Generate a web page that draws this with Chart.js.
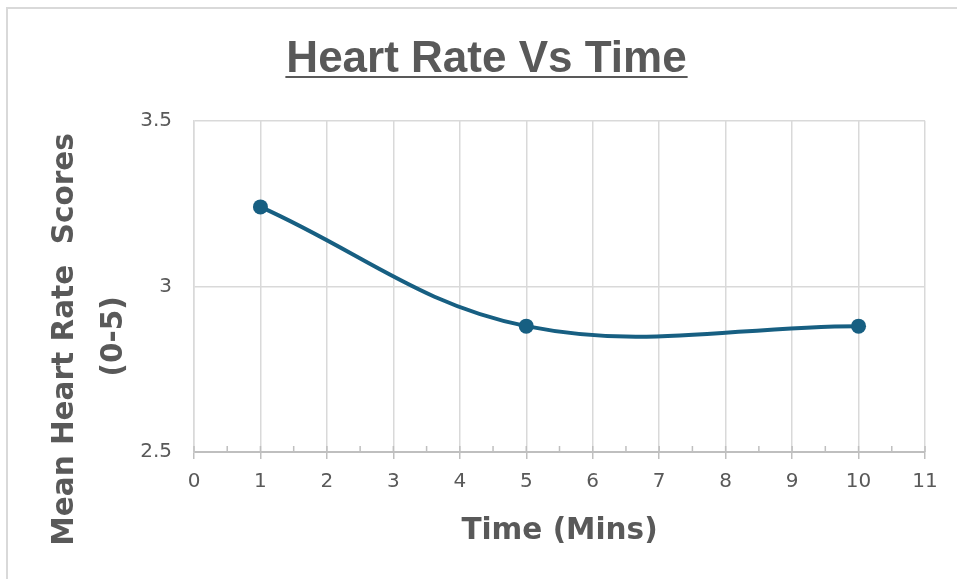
<!DOCTYPE html>
<html>
<head>
<meta charset="utf-8">
<script src="https://cdn.jsdelivr.net/npm/chart.js@4/dist/chart.umd.min.js"></script>
<style>
  html, body { margin: 0; padding: 0; background: #ffffff; }
  #wrap { position: relative; width: 957px; height: 579px; overflow: hidden; }
  #frame { position: absolute; left: 6px; top: 7px; width: 960px; height: 580px;
           border-top: 2px solid #d9d9d9; border-left: 2px solid #d9d9d9; pointer-events: none; }
  canvas { position: absolute; left: 0; top: 0; }
</style>
</head>
<body>
<div id="wrap">
  <canvas id="chart" width="957" height="579"></canvas>
  <div id="frame"></div>
</div>
<script>
// Mean heart rate score measured at each time point
const timeMins = [1, 5, 10];
const heartRateScores = [3.24, 2.88, 2.88];

// Axis ranges and labels
const xRange = [0, 11];
const yRange = [2.5, 3.5];
const yStep = 0.5;
const chartTitle = 'Heart Rate Vs Time';
const xTitle = 'Time (Mins)';
const yTitleLines = ['Mean Heart Rate  Scores', '(0-5)'];

const TEXT = '#595959';
const GRID = '#d9d9d9';
const AXIS = '#bfbfbf';
const LINE = '#175f82';

const points = timeMins.map((t, i) => ({ x: t, y: heartRateScores[i] }));

// Underline beneath the chart title
const titleUnderline = {
  id: 'titleUnderline',
  afterDraw(chart) {
    const tb = chart.titleBlock;
    if (!tb) return;
    const ctx = chart.ctx;
    const font = Chart.helpers.toFont(chart.options.plugins.title.font);
    ctx.save();
    ctx.font = font.string;
    const w = ctx.measureText(chartTitle).width;
    const cx = (tb.left + tb.right) / 2;
    const y = tb.top + tb.options.padding.top + font.lineHeight / 2 + font.size * 0.40;
    ctx.strokeStyle = TEXT;
    ctx.lineWidth = 2;
    ctx.beginPath();
    ctx.moveTo(cx - w / 2 - 1, y);
    ctx.lineTo(cx + w / 2 + 1, y);
    ctx.stroke();
    ctx.restore();
  }
};

// Small tick marks above the x axis (major and half-step minor)
const axisTicks = {
  id: 'axisTicks',
  beforeDatasetsDraw(chart) {
    const xs = chart.scales.x;
    const ctx = chart.ctx;
    const yAxis = chart.chartArea.bottom;
    ctx.save();
    ctx.strokeStyle = AXIS;
    ctx.lineWidth = 1.5;
    for (let v = xRange[0]; v <= xRange[1]; v += 0.5) {
      const px = xs.getPixelForValue(v);
      ctx.beginPath();
      ctx.moveTo(px, yAxis - 6);
      ctx.lineTo(px, yAxis);
      ctx.stroke();
    }
    ctx.restore();
  }
};

// Two-line rotated title for the value axis
const yAxisTitle = {
  id: 'yAxisTitle',
  afterDraw(chart) {
    const ctx = chart.ctx;
    const ca = chart.chartArea;
    ctx.save();
    ctx.fillStyle = TEXT;
    ctx.font = 'bold 29.5px "DejaVu Sans", sans-serif';
    ctx.textAlign = 'center';
    ctx.textBaseline = 'alphabetic';
    ctx.translate(73, ca.top + (ca.bottom - ca.top) / 2 + 53);
    ctx.rotate(-Math.PI / 2);
    ctx.fillText(yTitleLines[0], 0, 0);
    ctx.fillText(yTitleLines[1], 3, 49);
    ctx.restore();
  }
};

new Chart(document.getElementById('chart'), {
  type: 'line',
  data: {
    datasets: [{
      data: points,
      yAxisID: 'y',
      borderColor: LINE,
      backgroundColor: LINE,
      borderWidth: 4,
      pointRadius: 7.5,
      pointHoverRadius: 7.5,
      pointBorderWidth: 0,
      tension: 0.38,
      fill: false
    }]
  },
  options: {
    responsive: false,
    animation: false,
    layout: { padding: { left: 16, right: 0, top: 0, bottom: 0 } },
    plugins: {
      legend: { display: false },
      tooltip: { enabled: false },
      title: {
        display: true,
        text: chartTitle,
        color: TEXT,
        font: { family: '"Liberation Sans", Arial, sans-serif', size: 44, weight: 'bold', lineHeight: 1.2 },
        padding: { top: 33, bottom: 35 }
      }
    },
    scales: {
      x: {
        type: 'linear',
        min: xRange[0],
        max: xRange[1],
        afterFit(s) { s.height = 127; },
        ticks: {
          stepSize: 1,
          color: TEXT,
          padding: 11,
          font: { family: '"DejaVu Sans", sans-serif', size: 20 },
          callback: v => String(v)
        },
        grid: { color: GRID, lineWidth: 1.5, tickColor: AXIS, tickLength: 7 },
        border: { color: AXIS, width: 2 },
        title: {
          display: true,
          text: xTitle,
          color: TEXT,
          font: { family: '"DejaVu Sans", sans-serif', size: 29.5, weight: 'bold', lineHeight: 1.2 },
          padding: { top: 0, bottom: 30 }
        }
      },
      y: {
        min: yRange[0],
        max: yRange[1],
        afterFit(s) { s.width = 178; },
        ticks: {
          stepSize: yStep,
          color: TEXT,
          padding: 22,
          font: { family: '"DejaVu Sans", sans-serif', size: 20 },
          callback: v => String(v)
        },
        grid: { color: GRID, lineWidth: 1.5, drawTicks: false },
        border: { color: GRID, width: 1.5 }
      },
      // empty right-hand margin axis that keeps the plot clear of the edge
      yRight: {
        position: 'right',
        min: yRange[0],
        max: yRange[1],
        afterFit(s) { s.width = 32; },
        ticks: { display: false },
        grid: { display: false, drawOnChartArea: false },
        border: { display: false }
      }
    }
  },
  plugins: [titleUnderline, axisTicks, yAxisTitle]
});
</script>
</body>
</html>
